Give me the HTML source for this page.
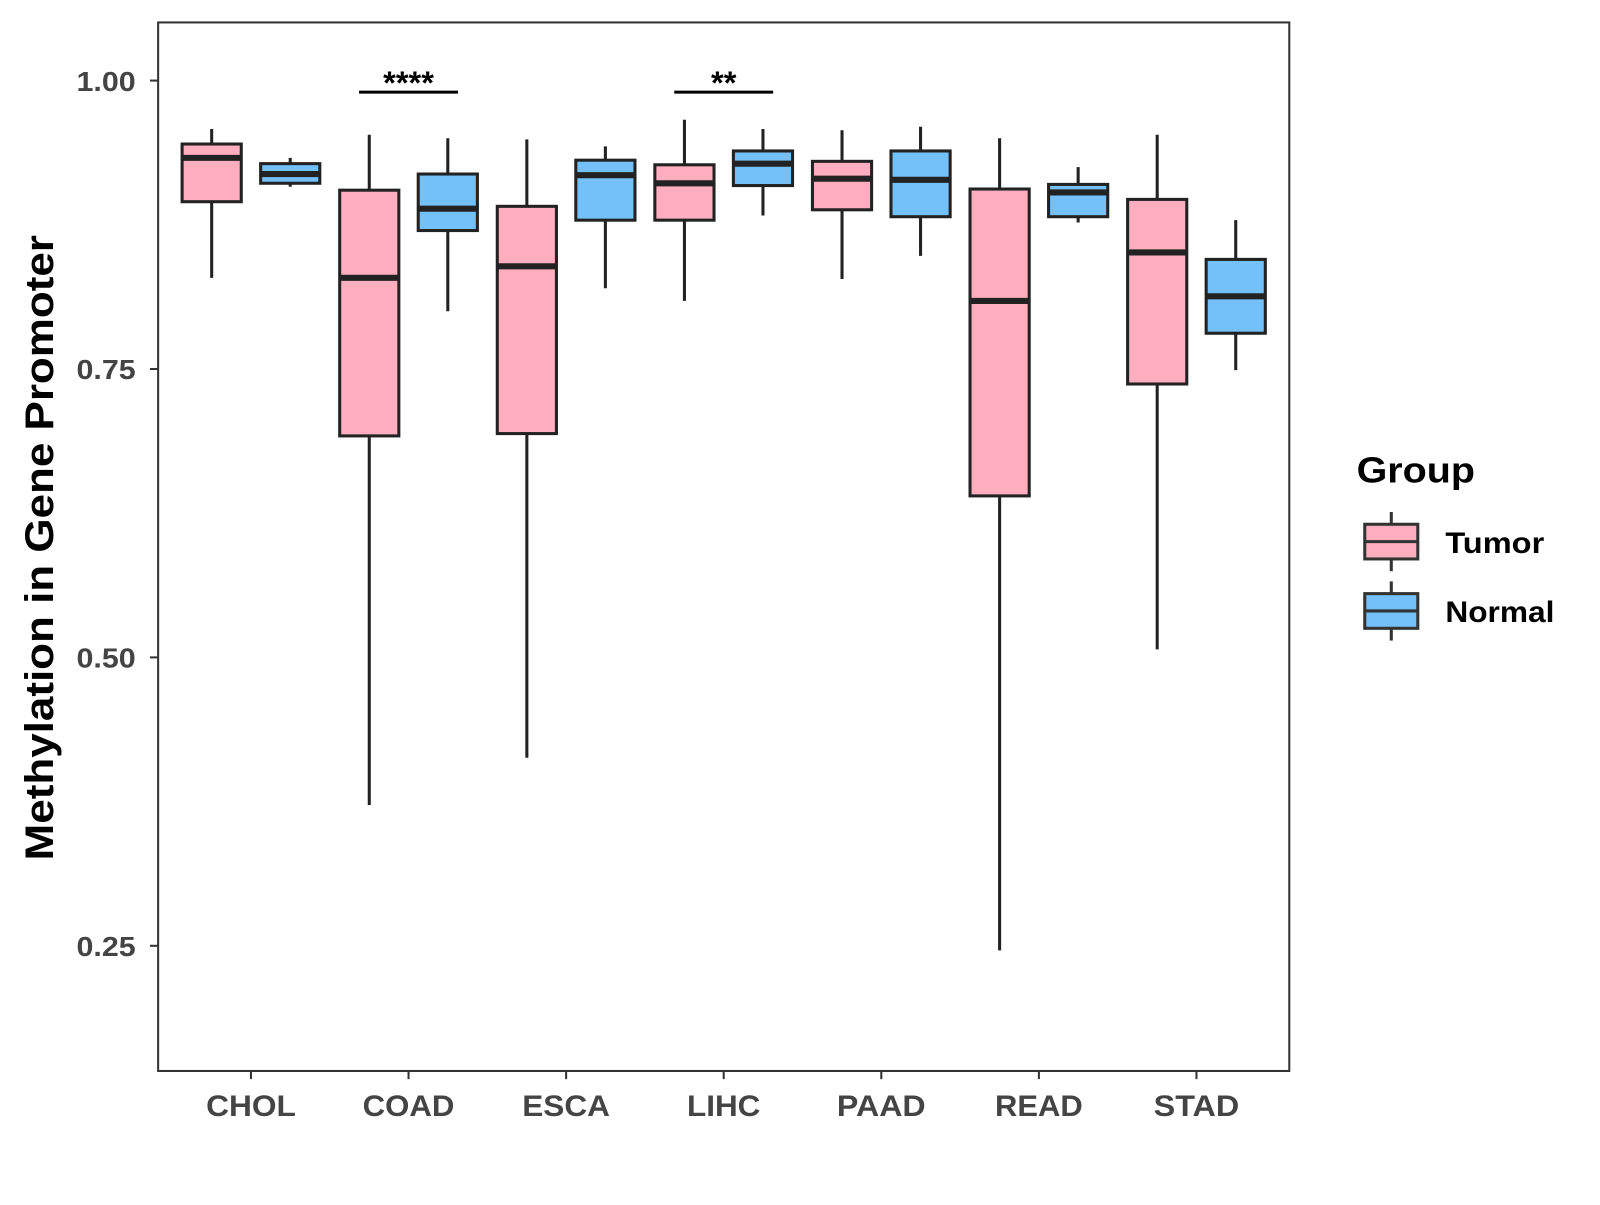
<!DOCTYPE html>
<html><head><meta charset="utf-8"><style>
html,body{margin:0;padding:0;background:#fff;}
svg text{font-family:"Liberation Sans",Arial,sans-serif;font-weight:bold;}
</style></head><body>
<svg id="chart" width="1600" height="1200" viewBox="0 0 1568.6 1176.5">
<rect x="0" y="0" width="1568.6" height="1176.5" fill="#fff"/>
<g id="plot"></g>
<rect x="155" y="22" width="1109" height="1028" fill="none" stroke="#333" stroke-width="2"/>
<text transform="translate(52,537) rotate(-90)" text-anchor="middle" font-size="39" textLength="613" lengthAdjust="spacingAndGlyphs" fill="#000">Methylation in Gene Promoter</text>
<g>
<text x="1330" y="473" font-size="35" textLength="116" lengthAdjust="spacingAndGlyphs" fill="#000">Group</text>
<g>
<line x1="1364" y1="502" x2="1364" y2="560" stroke="#333" stroke-width="3"/>
<rect x="1338" y="514" width="52" height="34" fill="#FFAEC0" stroke="#333" stroke-width="3"/>
<line x1="1338" y1="531" x2="1390" y2="531" stroke="#333" stroke-width="3"/>
<text x="1417" y="542" font-size="29" textLength="97" lengthAdjust="spacingAndGlyphs" fill="#000">Tumor</text></g>
<g>
<line x1="1364" y1="570" x2="1364" y2="628" stroke="#333" stroke-width="3"/>
<rect x="1338" y="582" width="52" height="34" fill="#74C1F9" stroke="#333" stroke-width="3"/>
<line x1="1338" y1="599" x2="1390" y2="599" stroke="#333" stroke-width="3"/>
<text x="1417" y="610" font-size="29" textLength="107" lengthAdjust="spacingAndGlyphs" fill="#000">Normal</text></g>
</g>
</svg>
<script>
const categories=["CHOL","COAD","ESCA","LIHC","PAAD","READ","STAD"];
// [lowWhisker, q1, median, q3, highWhisker]
const tumorStats=[[0.829,0.895,0.933,0.945,0.958],[0.372,0.692,0.829,0.905,0.953],[0.413,0.694,0.839,0.891,0.949],[0.809,0.879,0.911,0.927,0.966],[0.828,0.888,0.915,0.930,0.957],[0.246,0.640,0.809,0.906,0.950],[0.507,0.737,0.851,0.897,0.953]];
const normalStats=[[0.908,0.911,0.919,0.928,0.933],[0.800,0.870,0.889,0.919,0.950],[0.820,0.879,0.918,0.931,0.943],[0.883,0.909,0.928,0.939,0.958],[0.848,0.882,0.914,0.939,0.960],[0.877,0.882,0.903,0.910,0.925],[0.749,0.781,0.813,0.845,0.879]];
const yTicks=[0.25,0.50,0.75,1.00];
const yTickLabels=["0.25","0.50","0.75","1.00"];
const sigCats=["COAD","LIHC"];
const sigLabels=["****","**"];
const sigLevel=[0.99,0.99];

const labelWidths=[88,90,86,72,87,86,84];
const NS="http://www.w3.org/2000/svg";
const plot=document.getElementById('plot');
const Y0=0.1415,Y1=1.0504,TOP=22,BOT=1050;
function y(v){return BOT-(v-Y0)/(Y1-Y0)*(BOT-TOP);}
function xc(i){return 246+i*154.5;}
function mk(tag,attrs){const e=document.createElementNS(NS,tag);for(const k in attrs)e.setAttribute(k,attrs[k]);plot.appendChild(e);return e;}

yTicks.forEach((t,i)=>{
  const l=mk('line',{x1:147,x2:155,y1:y(t),y2:y(t),stroke:'#333','stroke-width':2});
  
  
  const tx=mk('text',{x:133,y:y(t)+10,'text-anchor':'end','font-size':27,textLength:58,lengthAdjust:'spacingAndGlyphs',fill:'#444'});
  tx.textContent=yTickLabels[i];
  
  
});
categories.forEach((c,i)=>{
  const l=mk('line',{x1:xc(i),x2:xc(i),y1:1050,y2:1058,stroke:'#333','stroke-width':2});
  
  
  const tx=mk('text',{x:xc(i),y:1094,'text-anchor':'middle','font-size':29,textLength:labelWidths[i],lengthAdjust:'spacingAndGlyphs',fill:'#444'});
  tx.textContent=c;
  
  
});
function box(s,cx,fill,name){
  const w=58;
  const g=document.createElementNS(NS,'g');plot.appendChild(g);
  
  
  const add=(tag,a)=>{const e=document.createElementNS(NS,tag);for(const k in a)e.setAttribute(k,a[k]);g.appendChild(e);};
  add('line',{x1:cx,x2:cx,y1:y(s[4]),y2:y(s[0]),stroke:'#222','stroke-width':3});
  add('rect',{x:cx-w/2,y:y(s[3]),width:w,height:y(s[1])-y(s[3]),fill:fill,stroke:'#222','stroke-width':3});
  add('line',{x1:cx-w/2,x2:cx+w/2,y1:y(s[2]),y2:y(s[2]),stroke:'#222','stroke-width':6});
}
categories.forEach((c,i)=>{
  box(tumorStats[i],xc(i)-38.5,'#FFAEC0','box-tumor-'+c.toLowerCase());
  box(normalStats[i],xc(i)+38.5,'#74C1F9','box-normal-'+c.toLowerCase());
});
sigCats.forEach((c,k)=>{
  const i=categories.indexOf(c);
  const l=mk('line',{x1:xc(i)-48.5,x2:xc(i)+48.5,y1:y(sigLevel[k]),y2:y(sigLevel[k]),stroke:'#000','stroke-width':3});
  
  
  const tx=mk('text',{x:xc(i),y:y(sigLevel[k])+2,'text-anchor':'middle','font-size':32,fill:'#000'});
  tx.textContent=sigLabels[k];
  
  
});
</script>
</body></html>
